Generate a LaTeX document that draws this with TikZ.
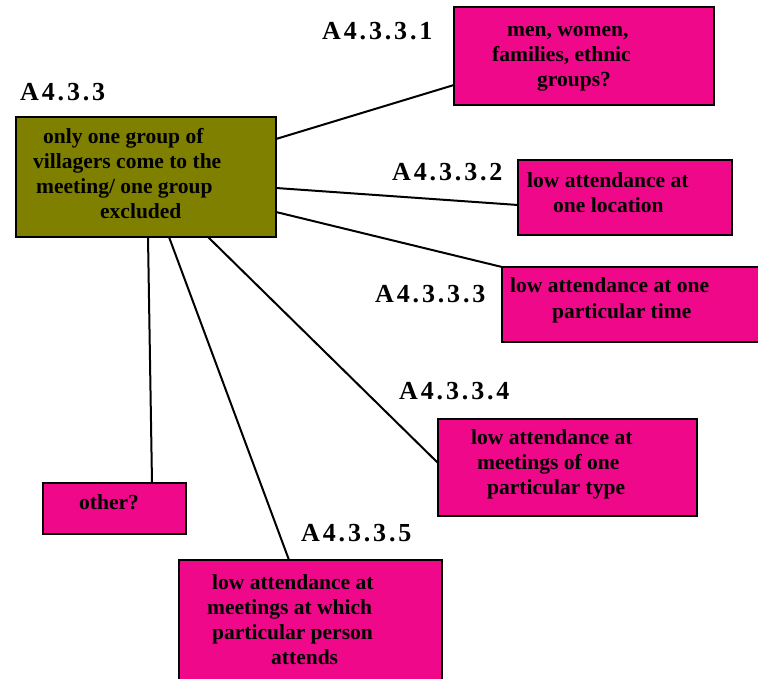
\documentclass[tikz,border=0pt]{standalone}
\usepackage{fontspec}
\setmainfont{Liberation Serif}
\newfontfamily\codefont[LetterSpace=11]{Liberation Serif}
\definecolor{olivebox}{RGB}{128,128,0}
\definecolor{pinkbox}{RGB}{240,8,138}

% stacked lines, each with its own left indent; baseline = first line
\newcommand\boxlines[1]{\vtop{\baselineskip=25pt\lineskiplimit=-100pt\halign{##\hfil\cr#1\crcr}}}

\tikzset{
  box/.style={draw=black, line width=1.8pt, inner sep=0pt, outer sep=0pt},
  rootbox/.style={box, fill=olivebox},
  pbox/.style={box, fill=pinkbox},
  link/.style={draw=black, line width=2pt},
  txt/.style={anchor=base west, inner sep=0pt, font=\bfseries\fontsize{21.5}{25}\selectfont},
  lbl/.style={anchor=base west, inner sep=0pt, font=\codefont\bfseries\fontsize{26}{30}\selectfont},
}

\begin{document}
\begin{tikzpicture}[x=1pt, y=-1pt]
\useasboundingbox (0,0) rectangle (758,679);

% boxes
\node[rootbox, minimum width=260pt, minimum height=120pt] (root) at (146,177) {};
\node[pbox, minimum width=260pt, minimum height=98pt]  (b1) at (584,56) {};
\node[pbox, minimum width=214pt, minimum height=75pt]  (b2) at (625,197.5) {};
\node[pbox, minimum width=263pt, minimum height=75pt]  (b3) at (633.5,304.5) {};
\node[pbox, minimum width=259pt, minimum height=97pt]  (b4) at (567.5,467.5) {};
\node[pbox, minimum width=143pt, minimum height=51pt]  (b6) at (114.5,508.5) {};
\node[pbox, minimum width=263pt, minimum height=130pt] (b5) at (310.5,625) {};

% connectors
\draw[link] ([yshift=38pt]root.east) -- ([yshift=-29pt]b1.west);
\draw[link] ([yshift=-11pt]root.east) -- ([yshift=-7.5pt]b2.west);
\draw[link] ([yshift=-35pt]root.east) -- (b3.north west);
\draw[link] ([xshift=62pt]root.south) -- ([yshift=4.5pt]b4.west);
\draw[link] ([xshift=23pt]root.south) -- ([xshift=-21.5pt]b5.north);
\draw[link] ([xshift=2pt]root.south) -- ([xshift=37.5pt]b6.north);

% box texts
\node[txt] (t0) at (33,144) {\boxlines{\kern10pt only one group of\cr villagers come to the\cr \kern3pt meeting/ one group\cr \kern67pt excluded}};
\node[txt] (t1) at (492,37) {\boxlines{\kern15pt men, women,\cr families, ethnic\cr \kern45pt groups?}};
\node[txt] (t2) at (527,188) {\boxlines{low attendance at\cr \kern26pt one location}};
\node[txt] (t3) at (510,293) {\boxlines{low attendance at one\cr \kern42pt particular time}};
\node[txt] (t4) at (471,444) {\boxlines{low attendance at\cr \kern6pt meetings of one\cr \kern16pt particular type}};
\node[txt] (t6) at (79,509) {other?};
\node[txt] (t5) at (207,589) {\boxlines{\kern5pt low attendance at\cr meetings at which\cr \kern5pt particular person\cr \kern64pt attends}};

% codes
\node[lbl] (l0) at (20,101) {A4.3.3};
\node[lbl] (l1) at (322,40) {A4.3.3.1};
\node[lbl] (l2) at (392,181) {A4.3.3.2};
\node[lbl] (l3) at (375,302) {A4.3.3.3};
\node[lbl] (l4) at (399,399) {A4.3.3.4};
\node[lbl] (l5) at (301,541) {A4.3.3.5};
\end{tikzpicture}
\end{document}
